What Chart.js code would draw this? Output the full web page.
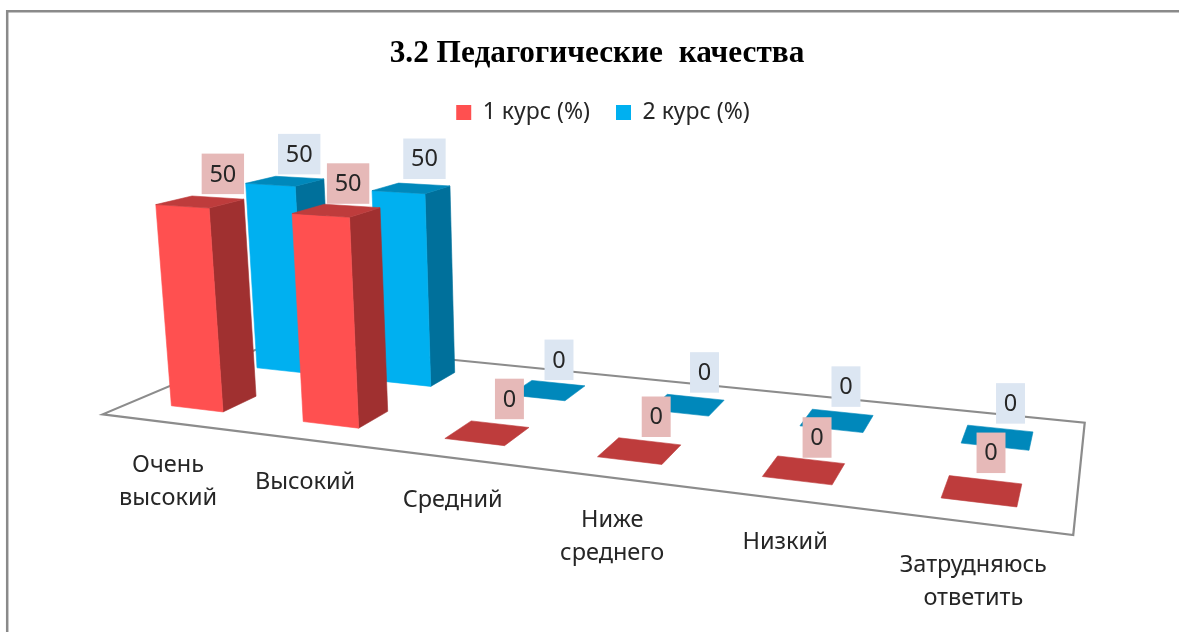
<!DOCTYPE html>
<html lang="ru">
<head>
<meta charset="utf-8">
<title>3.2 Педагогические качества</title>
<script src="https://cdn.jsdelivr.net/npm/chart.js@4"></script>
<style>
html,body{margin:0;padding:0;background:#fff;overflow:hidden}
canvas{display:block}
</style>
</head>
<body>
<canvas id="c" width="1179" height="632"></canvas>
<script>
const titleText = '3.2 Педагогические  качества';
const categories = [['Очень','высокий'],'Высокий','Средний',['Ниже','среднего'],'Низкий',['Затрудняюсь','ответить']];
const course1Name = '1 курс (%)';
const course2Name = '2 курс (%)';
const course1Values = [50, 50, 0, 0, 0, 0];
const course2Values = [50, 50, 0, 0, 0, 0];

const FONT = '"Noto Sans", "Open Sans", sans-serif';

// Perspective camera: unit floor (u along the categories, v into the depth) to the screen
const cam = {a:742.7,b:226.2,c:102.7,d:7.1,e:-3.8,f:414.3,g:-0.2123,h:0.2002,
             vx:593,vy:5843,k:8.72e-5,y0:-18.6};
function project(u,v,t){
  const w = cam.g*u + cam.h*v + 1;
  const x = (cam.a*u + cam.b*v + cam.c)/w;
  const y = (cam.d*u + cam.e*v + cam.f)/w;
  const s = t*cam.k*(y-cam.y0);
  return [x + s*(x-cam.vx), y + s*(y-cam.vy)];
}
function poly(ctx,pts,fill){
  ctx.beginPath();
  pts.forEach((p,i)=> i?ctx.lineTo(p[0],p[1]):ctx.moveTo(p[0],p[1]));
  ctx.closePath();
  ctx.fillStyle = fill; ctx.fill();
  ctx.strokeStyle = fill; ctx.lineWidth = 0.6; ctx.stroke();
}

const shade = [
  {front:'#FF5050',side:'#A03030',top:'#BE3C3C',box:'#E6B9B8'},
  {front:'#00B0F0',side:'#00709B',top:'#0088BB',box:'#DCE6F2'}
];
// Hand-placed data labels: shift from the centre of each bar's top face
const labelShift = [
  [[22.5,-28],[11.5,-27],[22,-34],[16.5,-34],[13,-32.5],[9,-38]],
  [[14,-27],[13,-29.5],[11,-30.5],[17,-32.5],[9,-34],[13,-34]]
];

const perspectivePlugin = {
  id:'perspective',
  afterLayout(chart){
    chart.titleBlock.left += 7.5; chart.titleBlock.right += 7.5;
    chart.legend.left += 13.5; chart.legend.right += 13.5;
  },
  beforeDraw(chart){
    const ctx = chart.ctx;
    ctx.save();
    ctx.strokeStyle = '#8A8A8A'; ctx.lineWidth = 2.5;
    ctx.beginPath(); ctx.moveTo(7.2,chart.height); ctx.lineTo(7.2,11.3); ctx.lineTo(chart.width,11.3); ctx.stroke();
    ctx.restore();
  },
  beforeDatasetsDraw(chart){
    const ctx = chart.ctx, area = chart.chartArea, xs = chart.scales.x;
    const toU = px => (px-area.left)/(area.right-area.left);
    ctx.save();
    // floor
    ctx.beginPath();
    [[0,0],[1,0],[1,1],[0,1]].forEach((c,i)=>{const p=project(c[0],c[1],0); i?ctx.lineTo(p[0],p[1]):ctx.moveTo(p[0],p[1]);});
    ctx.closePath();
    ctx.fillStyle='#FFFFFF'; ctx.fill();
    ctx.strokeStyle='#8C8C8C'; ctx.lineWidth=2.2; ctx.lineJoin='miter'; ctx.stroke();

    // category labels along the front edge
    ctx.font = '23.5px '+FONT; ctx.fillStyle='#262626'; ctx.textAlign='center'; ctx.textBaseline='middle';
    chart.data.labels.forEach((lab,i)=>{
      const p = project(toU(xs.getPixelForTick(i)),0,0);
      [].concat(lab).forEach((ln,j)=> ctx.fillText(ln,p[0]+0.5,p[1]+43+j*32.5));
    });

    // bars, back row first
    const slots = chart.data.datasets.length, anchors = [];
    for(let di=slots-1; di>=0; di--){
      const st = shade[di], meta = chart.getDatasetMeta(di);
      const vc = (di+0.5)/slots, vh = 0.38/slots/2;
      meta.data.forEach((bar,i)=>{
        const uc = toU(bar.x), uh = (bar.width/(area.right-area.left))/2;
        const t = (bar.base-bar.y)/(chart.scales.y.bottom-chart.scales.y.top);
        const u0=uc-uh,u1=uc+uh,v0=vc-vh,v1=vc+vh;
        if(t>0){
          poly(ctx,[project(u1,v0,0),project(u1,v1,0),project(u1,v1,t),project(u1,v0,t)],st.side);
          poly(ctx,[project(u0,v0,0),project(u1,v0,0),project(u1,v0,t),project(u0,v0,t)],st.front);
        }
        poly(ctx,[project(u0,v0,t),project(u1,v0,t),project(u1,v1,t),project(u0,v1,t)],st.top);
        anchors.push({di,i,p:project(uc,vc,t),text:String(chart.data.datasets[di].data[i])});
      });
    }
    // data labels on top of everything, the back series first
    ctx.font='23.5px '+FONT;
    anchors.forEach(a=>{
      const off = labelShift[a.di][a.i], cx=a.p[0]+off[0], cy=a.p[1]+off[1];
      const bw = ctx.measureText(a.text).width+15.5, bh=40.5;
      ctx.fillStyle = shade[a.di].box; ctx.fillRect(cx-bw/2,cy-bh/2,bw,bh);
      ctx.fillStyle='#262626'; ctx.textAlign='center'; ctx.textBaseline='middle';
      ctx.fillText(a.text,cx,cy+1);
    });
    ctx.restore();
    return false;
  }
};

new Chart(document.getElementById('c'),{
  type:'bar',
  data:{
    labels:categories,
    datasets:[
      {label:course1Name,data:course1Values,backgroundColor:shade[0].front,barPercentage:0.4,categoryPercentage:1,grouped:false},
      {label:course2Name,data:course2Values,backgroundColor:shade[1].front,barPercentage:0.4,categoryPercentage:1,grouped:false}
    ]
  },
  options:{
    responsive:false,animation:false,
    layout:{padding:0},
    scales:{
      x:{display:false},
      y:{display:false,min:0,max:50}
    },
    plugins:{
      tooltip:{enabled:false},
      title:{display:true,text:titleText,color:'#000',
        font:{family:'"Liberation Serif", serif',size:31.3,weight:'bold'},padding:{top:35,bottom:2.5}},
      legend:{display:true,position:'top',
        labels:{boxWidth:15,boxHeight:15,padding:26,color:'#262626',font:{family:FONT,size:23},usePointStyle:false}}
    }
  },
  plugins:[perspectivePlugin]
});
</script>
</body>
</html>
